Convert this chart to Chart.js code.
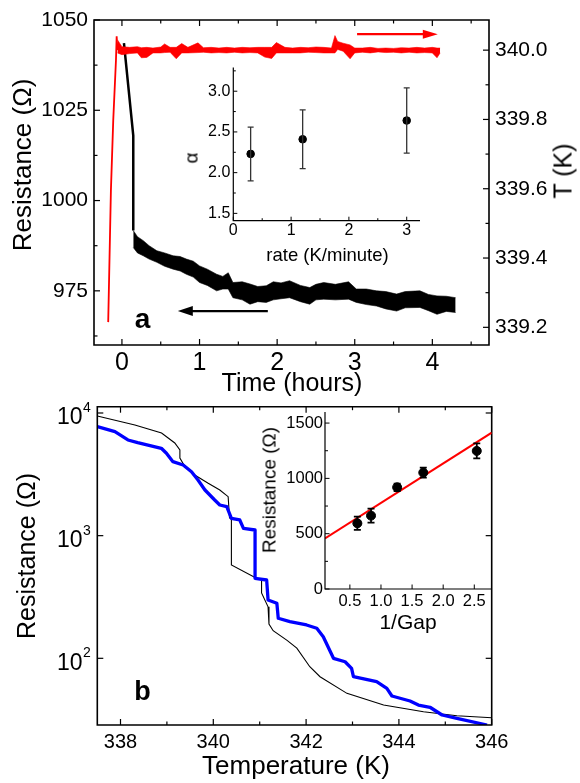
<!DOCTYPE html>
<html><head><meta charset="utf-8">
<script src="https://cdn.jsdelivr.net/npm/chart.js@4.4.1/dist/chart.umd.min.js"></script>
<style>
html,body{margin:0;padding:0;background:#fff}
body{width:580px;height:783px;position:relative;overflow:hidden;font-family:"Liberation Sans",Arial,Helvetica,sans-serif;color:#000}
canvas{position:absolute;display:block}
.lbl{position:absolute;white-space:nowrap;line-height:1;transform:translate(-50%,-50%)}
.rot{transform:translate(-50%,-50%) rotate(-90deg)}
</style></head><body>
<canvas id="cA" width="580" height="400" style="left:0px;top:0px"></canvas>
<canvas id="cAi" width="260" height="215" style="left:170px;top:55px"></canvas>
<canvas id="cB" width="580" height="388" style="left:0px;top:395px"></canvas>
<canvas id="cBi" width="260" height="240" style="left:240px;top:400px"></canvas>
<div class="lbl rot" style="left:22px;top:165px;font-size:26px">Resistance (Ω)</div>
<div class="lbl rot" style="left:563px;top:171px;font-size:25px">T (K)</div>
<div class="lbl" style="left:292px;top:382px;font-size:25px">Time (hours)</div>
<div class="lbl" style="left:142.5px;top:319px;font-size:28px;font-weight:bold">a</div>
<div class="lbl rot" style="left:191px;top:158px;font-size:19px">α</div>
<div class="lbl" style="left:327.5px;top:255px;font-size:18.5px">rate (K/minute)</div>
<div class="lbl rot" style="left:269px;top:490px;font-size:19px">Resistance (Ω)</div>
<div class="lbl" style="left:408px;top:621px;font-size:21px">1/Gap</div>
<div class="lbl rot" style="left:26px;top:556px;font-size:25px">Resistance (Ω)</div>
<div class="lbl" style="left:296px;top:764.5px;font-size:26px">Temperature (K)</div>
<div class="lbl" style="left:142.5px;top:691px;font-size:27px;font-weight:bold">b</div>
<script>
// ---------------- Panel a : resistance (black) ----------------
const rDropTime = [0.026, 0.146, 0.146];
const rDropR    = [1043.6, 1018.0, 991.7];
const rTime = [0.146,0.2,0.275,0.35,0.45,0.55,0.66,0.75,0.83,0.92,1.0,1.1,1.22,1.3,1.37,1.43,1.55,1.65,1.75,1.86,1.95,2.05,2.16,2.3,2.42,2.5,2.6,2.75,2.92,3.02,3.15,3.28,3.4,3.54,3.65,3.84,3.95,4.06,4.18,4.30];
const rHi = [991.7,990.0,988.9,987.5,986.1,985.5,984.7,984.5,983.8,983.2,981.9,981.0,979.6,979.0,980.0,977.3,977.5,976.9,976.2,976.4,977.5,977.2,977.8,976.5,975.9,976.8,977.3,976.8,977.5,975.5,975.5,975.0,974.8,974.1,974.8,975.0,974.0,973.6,973.5,973.1];
const rLo = [987.0,985.5,984.7,983.8,982.9,981.8,981.0,980.5,979.6,978.8,977.3,976.5,975.0,975.5,975.5,973.1,972.5,971.3,972.0,971.8,972.5,972.8,973.1,972.0,971.3,972.5,972.7,972.5,972.7,971.8,971.2,970.8,970.0,969.4,970.3,970.4,969.5,968.5,969.3,969.0];
// ---------------- Panel a : temperature (red) ----------------
const tRampTime = [-0.177,-0.142,-0.112,-0.077,-0.068,-0.058];
const tRampT    = [339.215,339.596,339.798,339.971,340.040,340.000];
const tTime = [-0.058,0.0,0.1,0.2,0.25,0.32,0.4,0.5,0.55,0.62,0.70,0.77,0.85,0.98,1.05,1.15,1.25,1.35,1.45,1.55,1.65,1.75,1.84,1.93,1.99,2.1,2.2,2.3,2.4,2.5,2.6,2.7,2.745,2.78,2.85,2.94,3.0,3.1,3.2,3.3,3.4,3.5,3.6,3.7,3.8,3.9,4.0,4.06,4.10];
const tHi = [340.030,340.010,340.008,340.010,340.007,340.008,340.006,340.009,340.018,340.008,340.008,340.019,340.008,340.021,340.007,340.008,340.006,340.008,340.006,340.008,340.007,340.008,340.008,340.008,340.022,340.008,340.006,340.008,340.007,340.009,340.008,340.006,340.042,340.025,340.020,340.015,340.006,340.006,340.008,340.005,340.006,340.005,340.007,340.006,340.008,340.006,340.008,340.006,340.006];
const tLo = [339.992,339.987,339.990,339.992,339.978,339.979,339.992,339.992,339.993,339.994,339.975,339.992,339.992,339.993,339.994,339.992,339.993,339.992,339.994,339.992,339.993,339.992,339.980,339.976,339.992,339.992,339.992,339.992,339.994,339.993,339.992,339.992,339.992,340.002,339.997,339.975,339.992,339.994,339.992,339.995,339.993,339.994,339.992,339.994,339.992,339.993,339.992,339.978,339.992];
const timeTicks = [0,1,2,3,4];
const timeMinor = [0.5,1.5,2.5,3.5,4.5];
const resTicksA = [975,1000,1025,1050];
const resMinorA = [962.5,987.5,1012.5,1037.5];
const tempTicksA = [339.2,339.4,339.6,339.8,340.0];
const tempMinorA = [339.3,339.5,339.7,339.9];
// arrows (data units): black on R axis, red on T axis
const arrowFrom = [1.88, 3.03];
const arrowTo   = [0.72, 4.07];
const arrowAt   = [969.4, 340.046];
// ---------------- Inset a ----------------
const rate = [0.3, 1.2, 3.0];
const alpha = [2.23, 2.41, 2.64];
const alphaLo = [1.90, 2.05, 2.24];
const alphaHi = [2.56, 2.77, 3.04];
const rateTicks = [0,1,2,3];
const rateMinor = [0.5,1.5,2.5];
const alphaTicks = [1.5,2.0,2.5,3.0];
const alphaMinor = [1.75,2.25,2.75,3.25];
// ---------------- Panel b ----------------
const tempBlack = [337.5,338.31,338.885,339.17,339.28,339.28,339.39,339.6,339.89,340.14,340.32,340.35,340.39,340.39,340.93,341.04,341.04,341.18,341.2,341.29,341.59,341.8,342.08,342.3,342.88,343.67,344.53,345.25,346.0];
const resBlack  = [9452,7980,6869,5692,4993,4297,3650,3123,2673,2356,2078,1393,1393,576,449,435,341,263,190,168,140,121,85.4,70.8,51.8,41.6,36.7,34.0,32.8];
const tempBlue = [337.5,337.88,338.16,338.37,338.88,338.99,339.13,339.35,339.53,339.67,339.82,340.03,340.14,340.29,340.39,340.57,340.65,340.9,340.9,341.15,341.18,341.37,341.4,341.65,342.01,342.23,342.37,342.59,342.84,342.98,343.02,343.52,343.74,343.85,344.24,344.42,344.67,344.93,345.25,345.9];
const resBlue  = [7734,7039,6026,5725,5155,4693,4009,3767,3322,2842,2356,1953,1778,1722,1385,1342,1148,1112,449,435,299,281,212,199,187,176,150,100,93.8,82.9,70.8,64.5,56.9,49.3,44.9,41.6,39.9,34.5,32.4,28.6];
const tempTicksB = [338,340,342,344,346];
const tempMinorB = [339,341,343,345];
const resTicksB = [100,1000,10000];
// ---------------- Inset b ----------------
const invGap = [0.62,0.84,1.26,1.68,2.54];
const resGap = [594,663,919,1052,1248];
const resGapErr = [60,63,33,45,68];
const fitX = [0.1, 2.78];
const fitR = [458, 1413];
const gapTicks = [0.5,1.0,1.5,2.0,2.5];
const resTicksI = [0,500,1000,1500];
const resMinorI = [250,750,1250];

const FONT = '"Liberation Sans", Arial, Helvetica, sans-serif';
Chart.defaults.font.family = FONT;
Chart.defaults.color = '#000';

const zip = (xs, ys) => xs.map((x, i) => ({x: x, y: ys[i]}));
const fixTicks = arr => (s => { s.ticks = arr.map(v => ({value: v})); });

// ---- plugins ----
const frameTicks = {
  id: 'frameTicks',
  afterDatasetsDraw(chart, args, o) {
    if (!o || !o.axes) return;
    const ctx = chart.ctx, a = chart.chartArea;
    ctx.save(); ctx.strokeStyle = '#000'; ctx.lineCap = 'butt';
    ctx.lineWidth = o.tickWidth || 1.2;
    o.axes.forEach(ax => {
      const s = chart.scales[ax.id];
      const one = (v, len) => {
        const p = s.getPixelForValue(v);
        ax.sides.forEach(side => {
          ctx.beginPath();
          if (side === 'bottom') { ctx.moveTo(p, a.bottom); ctx.lineTo(p, a.bottom - len); }
          else if (side === 'top') { ctx.moveTo(p, a.top); ctx.lineTo(p, a.top + len); }
          else if (side === 'left') { ctx.moveTo(a.left, p); ctx.lineTo(a.left + len, p); }
          else { ctx.moveTo(a.right, p); ctx.lineTo(a.right - len, p); }
          ctx.stroke();
        });
      };
      (ax.major || []).forEach(v => one(v, o.major));
      (ax.minor || []).forEach(v => one(v, o.minor));
    });
    ctx.lineWidth = o.frameWidth || 1.5;
    ctx.beginPath();
    if (o.box) ctx.rect(a.left, a.top, a.right - a.left, a.bottom - a.top);
    else { ctx.moveTo(a.left, a.top); ctx.lineTo(a.left, a.bottom); ctx.lineTo(a.right, a.bottom); }
    ctx.stroke(); ctx.restore();
  }
};
const errBars = {
  id: 'errBars',
  afterDatasetsDraw(chart, args, o) {
    if (!o || !o.lo) return;
    const ctx = chart.ctx, xs = chart.scales.x, ys = chart.scales.y;
    ctx.save(); ctx.strokeStyle = o.color || '#000'; ctx.lineWidth = o.width || 1.2;
    o.x.forEach((xv, i) => {
      const x = xs.getPixelForValue(xv), y1 = ys.getPixelForValue(o.lo[i]), y2 = ys.getPixelForValue(o.hi[i]);
      ctx.beginPath();
      ctx.moveTo(x, y1); ctx.lineTo(x, y2);
      ctx.moveTo(x - o.cap, y1); ctx.lineTo(x + o.cap, y1);
      ctx.moveTo(x - o.cap, y2); ctx.lineTo(x + o.cap, y2);
      ctx.stroke();
    });
    ctx.restore();
  }
};
const arrows = {
  id: 'arrows',
  afterDatasetsDraw(chart, args, o) {
    if (!o || !o.list) return;
    const ctx = chart.ctx;
    o.list.forEach(ar => {
      const xs = chart.scales.x, ys = chart.scales[ar.axis];
      const x0 = xs.getPixelForValue(ar.from), x1 = xs.getPixelForValue(ar.to), y = ys.getPixelForValue(ar.at);
      const d = Math.sign(x1 - x0);
      ctx.save(); ctx.strokeStyle = ar.color; ctx.fillStyle = ar.color; ctx.lineWidth = ar.width;
      ctx.beginPath(); ctx.moveTo(x0, y); ctx.lineTo(x1 - d * ar.head * 0.7, y); ctx.stroke();
      ctx.beginPath(); ctx.moveTo(x1, y); ctx.lineTo(x1 - d * ar.head, y - ar.half); ctx.lineTo(x1 - d * ar.head, y + ar.half); ctx.closePath(); ctx.fill();
      ctx.restore();
    });
  }
};
const logLabels = {
  id: 'logLabels',
  afterDraw(chart, args, o) {
    if (!o || !o.values) return;
    const ctx = chart.ctx, s = chart.scales.y, a = chart.chartArea;
    ctx.save(); ctx.fillStyle = '#000'; ctx.textBaseline = 'alphabetic';
    o.values.forEach(v => {
      const p = s.getPixelForValue(v);
      const e = String(Math.round(Math.log10(v)));
      const xr = a.left - o.gap;
      ctx.font = o.expSize + 'px ' + FONT; ctx.textAlign = 'right';
      const ew = ctx.measureText(e).width;
      ctx.fillText(e, xr, p - 1);
      ctx.font = o.baseSize + 'px ' + FONT;
      ctx.fillText('10', xr - ew - 0.5, p + 11.5);
    });
    ctx.restore();
  }
};
Chart.register(frameTicks, errBars, arrows, logLabels);

const base = { responsive: false, animation: false, devicePixelRatio: 1, events: [] };
const noGrid = { display: false, drawTicks: false };
const noBorder = { display: false };

// ---- Panel a ----
new Chart('cA', {
  type: 'line',
  data: { datasets: [
    { data: zip(tRampTime, tRampT), yAxisID: 'y2', borderColor: '#ff0000', borderWidth: 1.8, pointRadius: 0, fill: false },
    { data: zip(tTime, tHi), yAxisID: 'y2', borderColor: '#ff0000', backgroundColor: '#ff0000', borderWidth: 0.6, pointRadius: 0, fill: '+1' },
    { data: zip(tTime, tLo), yAxisID: 'y2', borderColor: '#ff0000', borderWidth: 0.6, pointRadius: 0, fill: false },
    { data: zip(rDropTime, rDropR), yAxisID: 'y', borderColor: '#000', borderWidth: 2.5, pointRadius: 0, fill: false },
    { data: zip(rTime, rHi), yAxisID: 'y', borderColor: '#000', backgroundColor: '#000', borderWidth: 0.6, pointRadius: 0, fill: '+1' },
    { data: zip(rTime, rLo), yAxisID: 'y', borderColor: '#000', borderWidth: 0.6, pointRadius: 0, fill: false }
  ]},
  options: Object.assign({}, base, {
    layout: { padding: { top: 20, left: 0, right: 0, bottom: 0 } },
    plugins: {
      legend: { display: false }, tooltip: { enabled: false },
      frameTicks: { major: 6, minor: 3.5, box: true, frameWidth: 1.6, axes: [
        { id: 'x', sides: ['bottom', 'top'], major: timeTicks, minor: timeMinor },
        { id: 'y', sides: ['left'], major: resTicksA, minor: resMinorA },
        { id: 'y2', sides: ['right'], major: tempTicksA, minor: tempMinorA } ] },
      arrows: { list: [
        { from: arrowFrom[0], to: arrowTo[0], at: arrowAt[0], axis: 'y', color: '#000', width: 2.2, head: 15, half: 5 },
        { from: arrowFrom[1], to: arrowTo[1], at: arrowAt[1], axis: 'y2', color: '#ff0000', width: 2.2, head: 15, half: 4.5 } ] }
    },
    scales: {
      x: { type: 'linear', min: -0.36, max: 4.73, afterFit: s => { s.height = 55; }, afterBuildTicks: fixTicks(timeTicks),
           grid: noGrid, border: noBorder, ticks: { font: { size: 25 }, padding: 3, color: '#000', callback: v => String(v) } },
      y: { type: 'linear', position: 'left', min: 960, max: 1050, afterFit: s => { s.width = 94; }, afterBuildTicks: fixTicks(resTicksA),
           grid: noGrid, border: noBorder, ticks: { font: { size: 21 }, padding: 6, color: '#000', callback: v => String(v) } },
      y2: { type: 'linear', position: 'right', min: 339.149, max: 340.087, afterFit: s => { s.width = 91; }, afterBuildTicks: fixTicks(tempTicksA),
           grid: noGrid, border: noBorder, ticks: { font: { size: 21 }, padding: 6, color: '#000', callback: v => v.toFixed(1) } }
    }
  })
});

// ---- Inset a ----
new Chart('cAi', {
  type: 'scatter',
  data: { datasets: [ { data: zip(rate, alpha), pointRadius: 3.8, pointBackgroundColor: '#000', pointBorderColor: '#000', showLine: false } ] },
  options: Object.assign({}, base, {
    layout: { padding: { top: 12, right: 10, left: 0, bottom: 0 } },
    plugins: {
      legend: { display: false }, tooltip: { enabled: false },
      frameTicks: { major: 4, minor: 2.5, box: false, frameWidth: 1.2, tickWidth: 1, axes: [
        { id: 'x', sides: ['bottom'], major: rateTicks, minor: rateMinor },
        { id: 'y', sides: ['left'], major: alphaTicks, minor: alphaMinor } ] },
      errBars: { x: rate, lo: alphaLo, hi: alphaHi, cap: 3, width: 1.3, color: '#333' }
    },
    scales: {
      x: { type: 'linear', min: 0, max: 3.23, afterFit: s => { s.height = 49.3; }, afterBuildTicks: fixTicks(rateTicks),
           grid: noGrid, border: noBorder, ticks: { font: { size: 16 }, padding: 0, color: '#000', callback: v => String(v) } },
      y: { type: 'linear', min: 1.41, max: 3.29, afterFit: s => { s.width = 63.3; }, afterBuildTicks: fixTicks(alphaTicks),
           grid: noGrid, border: noBorder, ticks: { font: { size: 16 }, padding: 3, color: '#000', callback: v => v.toFixed(1) } }
    }
  })
});

// ---- Panel b ----
new Chart('cB', {
  type: 'line',
  data: { datasets: [
    { data: zip(tempBlue, resBlue), borderColor: '#0000ff', borderWidth: 3.3, pointRadius: 0, fill: false, borderJoinStyle: 'round' },
    { data: zip(tempBlack, resBlack), borderColor: '#000', borderWidth: 1.1, pointRadius: 0, fill: false }
  ]},
  options: Object.assign({}, base, {
    layout: { padding: { top: 11.7, right: 88.3, left: 0, bottom: 0 } },
    plugins: {
      legend: { display: false }, tooltip: { enabled: false },
      frameTicks: { major: 6, minor: 3.5, box: true, frameWidth: 1.6, axes: [
        { id: 'x', sides: ['bottom', 'top'], major: tempTicksB, minor: tempMinorB },
        { id: 'y', sides: ['left', 'right'], major: resTicksB } ] },
      logLabels: { values: resTicksB, gap: 6.5, baseSize: 23, expSize: 14 }
    },
    scales: {
      x: { type: 'linear', min: 337.5, max: 346, afterFit: s => { s.height = 58; }, afterBuildTicks: fixTicks(tempTicksB),
           grid: noGrid, border: noBorder, ticks: { font: { size: 20 }, padding: 5, color: '#000', callback: v => String(v) } },
      y: { type: 'logarithmic', min: 28.6, max: 11254, afterFit: s => { s.width = 97.3; }, afterBuildTicks: fixTicks(resTicksB),
           grid: noGrid, border: noBorder, ticks: { display: false } }
    }
  })
});

// ---- Inset b ----
new Chart('cBi', {
  type: 'scatter',
  data: { datasets: [
    { data: zip(invGap, resGap), pointRadius: 4.5, pointBackgroundColor: '#000', pointBorderColor: '#000', showLine: false },
    { data: zip(fitX, fitR), borderColor: '#ff0000', borderWidth: 2, pointRadius: 0, showLine: true, fill: false }
  ]},
  options: Object.assign({}, base, {
    layout: { padding: { top: 12, right: 8.3, left: 0, bottom: 0 } },
    plugins: {
      legend: { display: false }, tooltip: { enabled: false },
      frameTicks: { major: 4.5, minor: 3, box: false, frameWidth: 1.2, tickWidth: 1, axes: [
        { id: 'x', sides: ['bottom'], major: gapTicks },
        { id: 'y', sides: ['left'], major: resTicksI, minor: resMinorI } ] },
      errBars: { x: invGap, lo: resGap.map((v, i) => v - resGapErr[i]), hi: resGap.map((v, i) => v + resGapErr[i]), cap: 3.5, width: 1.8, color: '#000' }
    },
    scales: {
      x: { type: 'linear', min: 0.1, max: 2.78, afterFit: s => { s.height = 51; }, afterBuildTicks: fixTicks(gapTicks),
           grid: noGrid, border: noBorder, ticks: { font: { size: 16.5 }, padding: 3, color: '#000', callback: v => v.toFixed(1) } },
      y: { type: 'linear', min: 0, max: 1600, afterFit: s => { s.width = 85; }, afterBuildTicks: fixTicks(resTicksI),
           grid: noGrid, border: noBorder, ticks: { font: { size: 16.5 }, padding: 2, color: '#000', callback: v => String(v) } }
    }
  })
});
</script>
</body></html>
